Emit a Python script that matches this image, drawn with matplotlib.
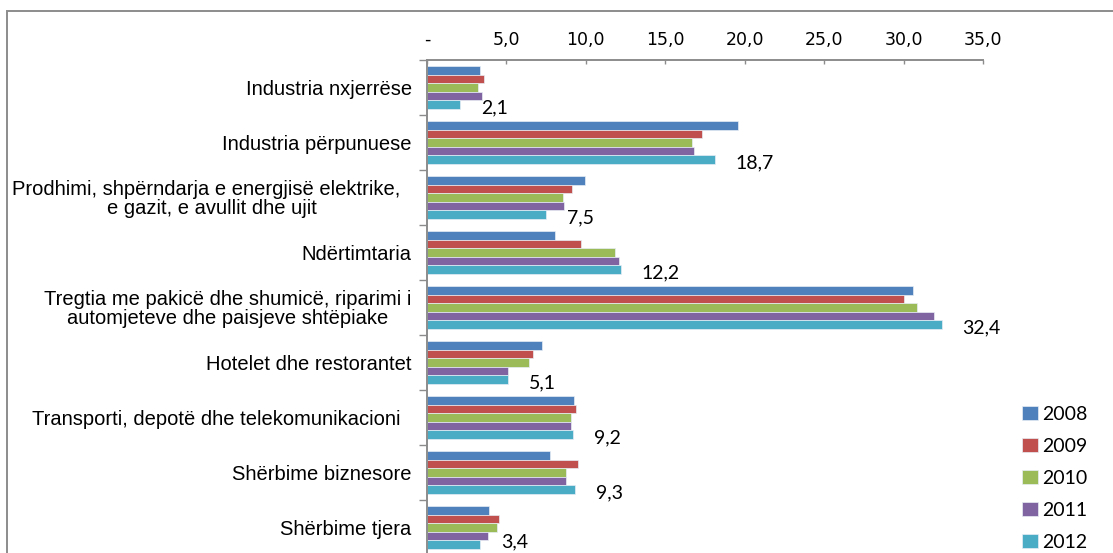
import matplotlib
matplotlib.use("Agg")
import matplotlib.pyplot as plt
import numpy as np
from matplotlib.patches import Rectangle

# ─── DONNÉES ──────────────────────────────────────────────────────────────────
categories = [
    "Industria nxjerrëse",
    "Industria përpunuese",
    "Prodhimi, shpërndarja e energjisë elektrike,  \ne gazit, e avullit dhe ujit",
    "Ndërtimtaria",
    "Tregtia me pakicë dhe shumicë, riparimi i\nautomjeteve dhe paisjeve shtëpiake",
    "Hotelet dhe restorantet",
    "Transporti, depotë dhe telekomunikacioni  ",
    "Shërbime biznesore",
    "Shërbime tjera",
]
years = ["2008", "2009", "2010", "2011", "2012"]
v2008 = [3.35, 19.6, 9.95, 8.07, 30.6, 7.23, 9.26, 7.74, 3.93]
v2009 = [3.57, 17.3, 9.12, 9.72, 30.0, 6.65, 9.38, 9.51, 4.51]
v2010 = [3.24, 16.7, 8.53, 11.83, 30.85, 6.41, 9.04, 8.78, 4.42]
v2011 = [3.45, 16.8, 8.65, 12.08, 31.9, 5.13, 9.04, 8.78, 3.81]
v2012 = [2.1, 18.1, 7.5, 12.2, 32.4, 5.1, 9.2, 9.3, 3.35]
labels_2012 = ["2,1", "18,7", "7,5", "12,2", "32,4", "5,1", "9,2", "9,3", "3,4"]
xticks = [0, 5, 10, 15, 20, 25, 30, 35]
xtick_labels = ["-", "5,0", "10,0", "15,0", "20,0", "25,0", "30,0", "35,0"]

series = [v2008, v2009, v2010, v2011, v2012]
colors = ["#4F81BD", "#C0504D", "#9BBB59", "#8064A2", "#4BACC6"]

# ─── FIGURE ───────────────────────────────────────────────────────────────────
W, H = 1113, 553
fig = plt.figure(figsize=(W / 100, H / 100), dpi=100)

# cadre gris de la zone graphique (coupé à droite et en bas)
fig.patches.append(Rectangle((7 / W, -0.2), 1.5, 1.2 - 11 / H,
                             transform=fig.transFigure, fill=False,
                             edgecolor="#8c8c8c", linewidth=1.4))

ax = fig.add_axes([427 / W, -2 / H, (983 - 427) / W, (555 - 60) / H])

n = len(categories)
y = np.arange(n)
h = 0.156
for j, (vals, col, yr) in enumerate(zip(series, colors, years)):
    ax.barh(y + (j - 2) * h, vals, height=h, color=col, edgecolor="#e8eef5",
            linewidth=0.5, label=yr)

ax.set_xlim(0, 35)
ax.set_ylim(n - 0.5, -0.5)

# étiquettes de la série 2012
etiquettes = []
for i, txt in enumerate(labels_2012):
    t = ax.annotate(txt, (v2012[i], y[i] + 2 * h), xytext=(15, -2.5),
                    textcoords="offset points", ha="left", va="center",
                    fontsize=14, family=["Lato", "DejaVu Sans"], color="black",
                    annotation_clip=False)
    etiquettes.append(t)

ax.xaxis.tick_top()
ax.set_xticks(xticks)
ax.set_xticklabels(xtick_labels, fontsize=12.5, family="DejaVu Sans")
ax.tick_params(axis="x", direction="in", length=3, width=1, color="#8c8c8c",
               pad=8)

# graduations entre catégories, libellés au centre
ax.set_yticks(np.arange(n + 1) - 0.5)
ax.set_yticklabels([])
ax.tick_params(axis="y", which="major", direction="out", length=6, width=1,
               color="#8c8c8c")
ax.set_yticks(y, minor=True)
ax.set_yticklabels(categories, minor=True, fontsize=14.5,
                   family="Liberation Sans", multialignment="center",
                   linespacing=1.0)
ax.tick_params(axis="y", which="minor", length=0, pad=11)

for s in ["right", "bottom"]:
    ax.spines[s].set_visible(False)
for s in ["top", "left"]:
    ax.spines[s].set_color("#8c8c8c")
    ax.spines[s].set_linewidth(1.4)

leg = ax.legend(loc="upper left", bbox_to_anchor=(1022 / W, 1 - 406 / H),
                bbox_transform=fig.transFigure, frameon=False,
                prop={"family": "Lato", "size": 14}, handlelength=0.8,
                handleheight=0.7, handletextpad=0.25, labelspacing=0.77,
                borderpad=0, borderaxespad=0)

# comme Excel : une étiquette qui sortirait en bas est remontée
fig.canvas.draw()
for t in etiquettes:
    bb = t.get_window_extent()
    if bb.y0 < 3:
        dx, dy = t.xyann
        t.xyann = (dx, dy + (3 - bb.y0) * 72 / fig.dpi)

fig.savefig("out.png", dpi=100)
